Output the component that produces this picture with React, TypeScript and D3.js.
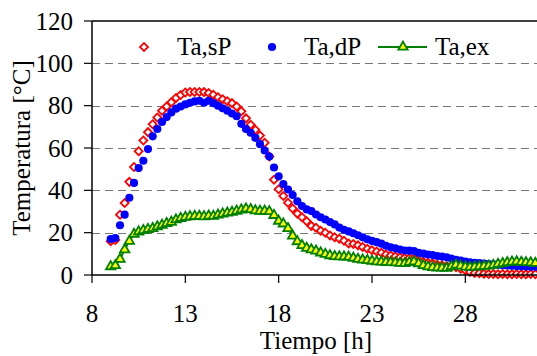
import React from "react";
import * as d3 from "d3";

const hours = [9,9.25,9.5,9.75,10,10.25,10.5,10.75,11,11.25,11.5,11.75,12,12.25,12.5,12.75,13,13.25,13.5,13.75,14,14.25,14.5,14.75,15,15.25,15.5,15.75,16,16.25,16.5,16.75,17,17.25,17.5,17.75,18,18.25,18.5,18.75,19,19.25,19.5,19.75,20,20.25,20.5,20.75,21,21.25,21.5,21.75,22,22.25,22.5,22.75,23,23.25,23.5,23.75,24,24.25,24.5,24.75,25,25.25,25.5,25.75,26,26.25,26.5,26.75,27,27.25,27.5,27.75,28,28.25,28.5,28.75,29,29.25,29.5,29.75,30,30.25,30.5,30.75,31,31.25,31.5,31.75];

const taSP = [16,16.5,28.5,34,44,51,58.5,63.5,67.5,71.2,
74.4,77.6,79.6,81.6,83.6,85,86.2,86.5,86.5,86.5,
86.4,86,85.2,84,83,82.1,81.2,79.6,77.4,74,
71,68.6,65.9,62.5,56,45,40.5,37.3,34.1,31.4,
29,27.3,25.4,23.2,22.3,20.9,20,18.7,17.8,17.1,
16.2,14.9,14.6,14,13.2,12.4,11.7,11.1,10.5,9.7,
9.2,8.8,8.4,8,8,7.8,6.8,6.2,5.8,5.5,
4.8,4.6,4.3,4,3.7,3,2.2,1.4,1,0.8,
0.6,0.5,0.5,0.4,0.5,0.4,0.4,0.5,0.4,0.4,
0.5,0.4];

const taDP = [17,17.5,23.5,28.5,36.5,43.5,50.5,54,59.5,65.5,
69,72.3,74.6,76.8,78.6,79.6,80.6,81.4,82,82.3,
81.4,82.3,81.2,80,78.8,77.6,76.3,75,71.4,69,
67.2,64.8,61.8,58.8,56,50.8,46.6,43,40.4,37.8,
34.8,32.6,31,30.2,28.6,27.3,26.2,25,23.9,22.4,
21.4,20.6,19.7,18.8,17.8,16.9,16.1,15.5,14.8,13.8,
13.1,12.6,12,11.6,11.5,11.3,10.5,10.1,9.7,9.4,
9,8.7,8.4,7.8,7.2,6.8,6.4,6,5.8,5.6,
5.4,5.2,5,4.8,4.6,4.5,4.4,4.2,4.1,4,
3.9,3.9];

const taEX = [4,4.5,7.5,12,16,19.3,20.4,21.1,21.6,22,
22.8,23.6,24.4,25,26.1,26.8,27.3,27.6,27.8,27.8,
27.6,27.9,27.8,28.4,28.9,29.3,29.7,30.2,30.8,31.3,
31,30.4,30.2,30.2,30,28.2,25.5,24.2,22,18.5,
15.8,14,12.7,12,11.4,10.5,9.8,9.2,8.8,8.7,
8.6,8.5,8,7.5,7.1,6.9,6.6,6.3,6.2,6,
5.9,5.8,5.6,5.5,6,6.3,5.4,4.5,3.9,3.6,
3.4,3.3,3.2,4,4.8,4.3,3.8,3.7,3.8,4,
4.2,4.3,4.6,5.1,5.5,5.9,6.2,6.3,6.1,5.9,
5.8,5.6];

const xTicks = [8, 13, 18, 23, 28];
const yTicks = [0, 20, 40, 60, 80, 100, 120];
const gridValues = [20, 40, 60, 80, 100];
const seriesNames = ["Ta,sP", "Ta,dP", "Ta,ex"];

const W = 537, H = 356;
const FONT = `"Liberation Serif"`;

export default function App() {
  const x = d3.scaleLinear().domain([8, 32]).range([92, 540]);
  const y = d3.scaleLinear().domain([0, 120]).range([275, 21]);

  const diamond = d3.symbol().type(d3.symbolSquare).size(32)()!;
  const circle = d3.symbol().type(d3.symbolCircle).size(52)()!;
  const tri = d3.symbol().type(d3.symbolTriangle).size(38)()!;

  const sp = hours.map((h, i) => [h, taSP[i]] as [number, number]);
  const dp = hours.map((h, i) => [h, taDP[i]] as [number, number]);
  const ex = hours.map((h, i) => [h, taEX[i]] as [number, number]);
  const line = d3.line<[number, number]>().x(d => x(d[0])).y(d => y(d[1]));

  const x0 = x.range()[0];
  const x1 = x.range()[1];
  const yb = y(0);
  const yt = y(120);

  const textStyle = { fontFamily: FONT, fontSize: 25, fill: "#000" } as React.CSSProperties;

  return (
    <svg width={W} height={H} style={{ position: "absolute", left: 0, top: 0, background: "#fff" }}>
      <rect width={W} height={H} fill="#fff" />
      {gridValues.map(v => (
        <line key={v} x1={x0} x2={x1} y1={Math.round(y(v)) + 0.5} y2={Math.round(y(v)) + 0.5}
          stroke="#777" strokeWidth={1} strokeDasharray="8,5" />
      ))}
      <g>
        {sp.map((d, i) => (
          <path key={i} d={diamond} transform={`translate(${x(d[0])},${y(d[1])}) rotate(45)`}
            fill="#fff" stroke="#ff0000" strokeWidth={1.8} />
        ))}
      </g>
      <g>
        {dp.map((d, i) => (
          <path key={i} d={circle} transform={`translate(${x(d[0])},${y(d[1])})`} fill="#0000ff" />
        ))}
      </g>
      <path d={line(ex)!} fill="none" stroke="#008000" strokeWidth={2} />
      <g>
        {ex.map((d, i) => (
          <path key={i} d={tri} transform={`translate(${x(d[0])},${y(d[1])})`}
            fill="#ffff00" stroke="#008000" strokeWidth={1.8} />
        ))}
      </g>
      <line x1={x0} x2={x1} y1={yt} y2={yt} stroke="#000" strokeWidth={1.5} />
      <line x1={x0} x2={x0} y1={yt} y2={yb} stroke="#000" strokeWidth={1.5} />
      <line x1={x0} x2={x1} y1={yb} y2={yb} stroke="#000" strokeWidth={1.5} />
      {yTicks.map(v => (
        <g key={v}>
          <line x1={x0 - 8} x2={x0} y1={y(v)} y2={y(v)} stroke="#000" strokeWidth={1.2} />
          <text x={73} y={y(v)} dy="0.35em" textAnchor="end" style={textStyle}>{v}</text>
        </g>
      ))}
      {xTicks.map(v => (
        <g key={v}>
          <line x1={x(v)} x2={x(v)} y1={yb} y2={yb + 8} stroke="#000" strokeWidth={1.2} />
          <text x={x(v)} y={322} textAnchor="middle" style={textStyle}>{v}</text>
        </g>
      ))}
      <text x={316} y={349} textAnchor="middle" style={textStyle}>Tiempo [h]</text>
      <text transform={`translate(30,148) rotate(-90)`} textAnchor="middle" style={textStyle}>Temperatura [°C]</text>
      <g>
        <path d={diamond} transform="translate(144,47) rotate(45)" fill="#fff" stroke="#ff0000" strokeWidth={1.8} />
        <text x={177} y={55} style={textStyle}>{seriesNames[0]}</text>
        <path d={circle} transform="translate(272,47)" fill="#0000ff" />
        <text x={304} y={55} style={textStyle}>{seriesNames[1]}</text>
        <line x1={378} x2={427} y1={47} y2={47} stroke="#008000" strokeWidth={2} />
        <path d={tri} transform="translate(403,47)" fill="#ffff00" stroke="#008000" strokeWidth={1.8} />
        <text x={435} y={55} style={textStyle}>{seriesNames[2]}</text>
      </g>
    </svg>
  );
}
